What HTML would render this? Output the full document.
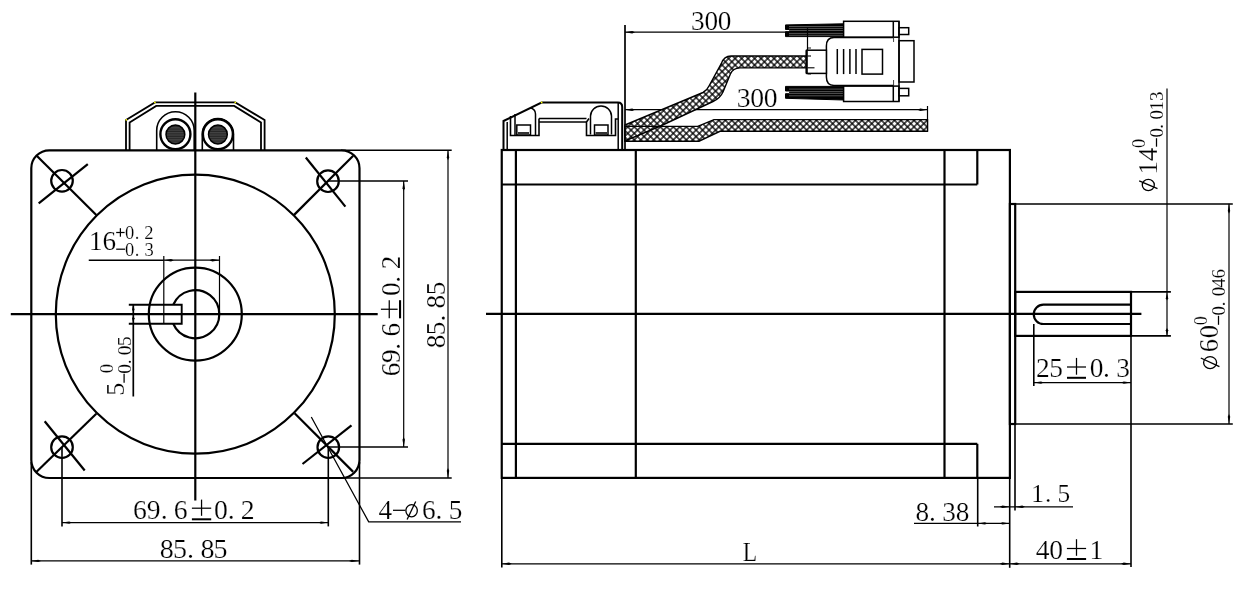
<!DOCTYPE html>
<html><head><meta charset="utf-8"><style>
html,body{margin:0;padding:0;background:#fff;width:1248px;height:601px;overflow:hidden}
svg{display:block;will-change:transform}
text{font-family:"Liberation Serif",serif;font-size:100px;fill:#000;stroke:#fff;stroke-width:0.8px}
</style></head><body>
<svg width="1248" height="601" viewBox="0 0 1248 601">
<defs>
<pattern id="hatch" patternUnits="userSpaceOnUse" width="4.6" height="4.6" patternTransform="rotate(45)">
<rect width="4.6" height="4.6" fill="#000"/>
<rect x="0.65" y="0.65" width="3.3" height="3.3" fill="#fff"/>
</pattern>
<pattern id="stripe" patternUnits="userSpaceOnUse" width="20" height="2.4">
<rect width="20" height="2.4" fill="#444"/>
<rect y="1.4" width="20" height="0.7" fill="#111"/>
</pattern>
</defs>
<g stroke="#000" fill="none" stroke-linecap="butt">
<rect x="31.3" y="150.3" width="328.2" height="327.7" rx="18" stroke-width="2.2" fill="none"/>
<polyline points="126,150 126,120 154.9,102.4 235.3,102.4 264.6,120 264.6,150" stroke-width="1.8" fill="none"/>
<polyline points="129.6,150 129.6,122.4 156.2,105.9 234.2,105.9 261,122.4 261,150" stroke-width="1.8" fill="none"/>
<path d="M156.7,150 V130.5 A18.75,18.75 0 0 1 194.2,130.5 V150" stroke-width="1.6" fill="none" />
<path d="M202.3,150 V134.2 A15.6,15.6 0 0 1 233.5,134.2 V150" stroke-width="1.6" fill="none" />
<circle cx="175.4" cy="134.2" r="15.0" stroke-width="2.4" fill="#fff"/>
<circle cx="217.9" cy="134.2" r="15.0" stroke-width="2.4" fill="#fff"/>
<circle cx="175.4" cy="134.5" r="9.4" stroke-width="1.5" fill="url(#stripe)"/>
<circle cx="217.9" cy="134.5" r="9.4" stroke-width="1.5" fill="url(#stripe)"/>
<circle cx="195.3" cy="314.2" r="139.5" stroke-width="2.2" fill="none"/>
<circle cx="195.3" cy="314.2" r="46.5" stroke-width="2.2" fill="none"/>
<path d="M173.26,304.7 A24,24 0 1 1 173.26,323.7" stroke-width="2.2" fill="none" />
<circle cx="62" cy="180.8" r="10.8" stroke-width="2.2" fill="none"/>
<circle cx="328" cy="181.2" r="10.8" stroke-width="2.2" fill="none"/>
<circle cx="62" cy="447.2" r="10.8" stroke-width="2.2" fill="none"/>
<circle cx="328.3" cy="447.2" r="10.8" stroke-width="2.2" fill="none"/>
<line x1="36.7" y1="155.8" x2="96.3" y2="215" stroke-width="2.2"/>
<line x1="353.2" y1="155.8" x2="294.1" y2="214.9" stroke-width="2.2"/>
<line x1="36.3" y1="472" x2="96.3" y2="413.7" stroke-width="2.2"/>
<line x1="294.6" y1="413.3" x2="353.2" y2="471.9" stroke-width="2.2"/>
<line x1="38.7" y1="203.3" x2="87.8" y2="164.2" stroke-width="2.2"/>
<line x1="305.8" y1="157.5" x2="345.4" y2="206.6" stroke-width="2.2"/>
<line x1="44.7" y1="421.3" x2="84.7" y2="470.5" stroke-width="2.2"/>
<line x1="302.5" y1="464" x2="351.5" y2="425.3" stroke-width="2.2"/>
<line x1="195.3" y1="92.5" x2="195.3" y2="500.6" stroke-width="2.2"/>
<line x1="10.8" y1="314.2" x2="377.7" y2="314.2" stroke-width="2.2"/>
<polyline points="128.8,304.7 181.7,304.7 181.7,323.7 128.8,323.7" stroke-width="1.9" fill="none"/>
<line x1="163.8" y1="256" x2="163.8" y2="323.3" stroke-width="1.2"/>
<line x1="219.5" y1="256" x2="219.5" y2="314" stroke-width="1.2"/>
<line x1="88.75" y1="260.2" x2="163.8" y2="260.2" stroke-width="1.6"/>
<line x1="163.8" y1="260.2" x2="219.5" y2="260.2" stroke-width="1.2"/>
<polygon points="163.80,260.20 171.00,259.00 173.80,260.20 171.00,261.40" stroke="none" fill="#000"/>
<polygon points="219.50,260.20 212.30,261.40 209.50,260.20 212.30,259.00" stroke="none" fill="#000"/>
<line x1="133.3" y1="304.7" x2="133.3" y2="396.5" stroke-width="1.7"/>
<polygon points="133.30,304.70 134.50,309.74 133.30,311.70 132.10,309.74" stroke="none" fill="#000"/>
<polygon points="133.30,323.30 132.10,318.26 133.30,316.30 134.50,318.26" stroke="none" fill="#000"/>
<line x1="62" y1="447" x2="62" y2="526.4" stroke-width="1.6"/>
<line x1="328.3" y1="447" x2="328.3" y2="526.4" stroke-width="1.6"/>
<line x1="31.3" y1="462" x2="31.3" y2="564.6" stroke-width="1.6"/>
<line x1="359.5" y1="462" x2="359.5" y2="564.6" stroke-width="1.6"/>
<line x1="328" y1="181" x2="408" y2="181" stroke-width="1.6"/>
<line x1="328" y1="447" x2="408" y2="447" stroke-width="1.6"/>
<line x1="341" y1="150.3" x2="451.7" y2="150.3" stroke-width="1.6"/>
<line x1="341" y1="478" x2="451.7" y2="478" stroke-width="1.6"/>
<line x1="62" y1="522.6" x2="328.3" y2="522.6" stroke-width="1.2"/>
<polygon points="62.00,522.60 69.20,521.40 72.00,522.60 69.20,523.80" stroke="none" fill="#000"/>
<polygon points="328.30,522.60 321.10,523.80 318.30,522.60 321.10,521.40" stroke="none" fill="#000"/>
<line x1="31" y1="560.9" x2="359" y2="560.9" stroke-width="1.2"/>
<polygon points="31.00,560.90 38.20,559.70 41.00,560.90 38.20,562.10" stroke="none" fill="#000"/>
<polygon points="359.00,560.90 351.80,562.10 349.00,560.90 351.80,559.70" stroke="none" fill="#000"/>
<line x1="403.7" y1="181" x2="403.7" y2="447" stroke-width="1.2"/>
<polygon points="403.70,181.00 404.90,188.20 403.70,191.00 402.50,188.20" stroke="none" fill="#000"/>
<polygon points="403.70,447.00 402.50,439.80 403.70,437.00 404.90,439.80" stroke="none" fill="#000"/>
<line x1="448" y1="150.3" x2="448" y2="478" stroke-width="1.2"/>
<polygon points="448.00,150.30 449.20,157.50 448.00,160.30 446.80,157.50" stroke="none" fill="#000"/>
<polygon points="448.00,478.00 446.80,470.80 448.00,468.00 449.20,470.80" stroke="none" fill="#000"/>
<polyline points="311.3,417 368.7,521.9 461,521.9" stroke-width="1.25" fill="none"/>
<rect x="501.75" y="150" width="508.15" height="327.9" rx="0" stroke-width="2.2" fill="none"/>
<line x1="515.9" y1="150" x2="515.9" y2="477.9" stroke-width="2.2"/>
<line x1="635.8" y1="150" x2="635.8" y2="477.9" stroke-width="2.2"/>
<line x1="944.5" y1="150" x2="944.5" y2="477.9" stroke-width="2.2"/>
<line x1="977.3" y1="150" x2="977.3" y2="184.5" stroke-width="2.2"/>
<line x1="977.3" y1="443.8" x2="977.3" y2="477.9" stroke-width="2.2"/>
<line x1="501.75" y1="184.5" x2="977.3" y2="184.5" stroke-width="2.2"/>
<line x1="501.75" y1="443.8" x2="977.3" y2="443.8" stroke-width="2.2"/>
<rect x="1009.9" y="204" width="5.300000000000068" height="220" rx="0" stroke-width="2.2" fill="none"/>
<rect x="1015.2" y="291.9" width="115.79999999999995" height="44.0" rx="0" stroke-width="2.2" fill="none"/>
<path d="M1131,304.7 H1043.4 A9.65,9.65 0 0 0 1043.4,324 H1131" stroke-width="2.2" fill="none" />
<line x1="486" y1="313.8" x2="1141.4" y2="313.8" stroke-width="2.2"/>
<line x1="1131" y1="291.9" x2="1170.9" y2="291.9" stroke-width="1.6"/>
<line x1="1131" y1="335.9" x2="1170.9" y2="335.9" stroke-width="1.6"/>
<line x1="1167" y1="88.6" x2="1167" y2="335.9" stroke-width="1.2"/>
<polygon points="1167.00,292.60 1168.20,298.36 1167.00,300.60 1165.80,298.36" stroke="none" fill="#000"/>
<polygon points="1167.00,335.90 1165.80,330.14 1167.00,327.90 1168.20,330.14" stroke="none" fill="#000"/>
<line x1="1015" y1="204" x2="1232.8" y2="204" stroke-width="1.6"/>
<line x1="1015" y1="424" x2="1232.8" y2="424" stroke-width="1.6"/>
<line x1="1229" y1="203.8" x2="1229" y2="424" stroke-width="1.2"/>
<polygon points="1229.00,203.80 1230.20,211.00 1229.00,213.80 1227.80,211.00" stroke="none" fill="#000"/>
<polygon points="1229.00,424.00 1227.80,416.80 1229.00,414.00 1230.20,416.80" stroke="none" fill="#000"/>
<line x1="1131" y1="335.9" x2="1131" y2="567" stroke-width="1.6"/>
<line x1="1033.8" y1="324" x2="1033.8" y2="386" stroke-width="1.6"/>
<line x1="1033.8" y1="382.6" x2="1131" y2="382.6" stroke-width="1.2"/>
<polygon points="1033.80,382.60 1041.00,381.40 1043.80,382.60 1041.00,383.80" stroke="none" fill="#000"/>
<polygon points="1131.00,382.60 1123.80,383.80 1121.00,382.60 1123.80,381.40" stroke="none" fill="#000"/>
<line x1="501.8" y1="477.8" x2="501.8" y2="567.4" stroke-width="1.6"/>
<line x1="1009.7" y1="477.8" x2="1009.7" y2="567.8" stroke-width="1.6"/>
<line x1="977.7" y1="477.8" x2="977.7" y2="526.5" stroke-width="1.6"/>
<line x1="1015" y1="424" x2="1015" y2="510.5" stroke-width="1.6"/>
<line x1="501.8" y1="563.8" x2="1131" y2="563.8" stroke-width="1.2"/>
<polygon points="501.80,563.80 509.00,562.60 511.80,563.80 509.00,565.00" stroke="none" fill="#000"/>
<polygon points="1009.70,563.80 1002.50,565.00 999.70,563.80 1002.50,562.60" stroke="none" fill="#000"/>
<polygon points="1009.70,563.80 1016.90,562.60 1019.70,563.80 1016.90,565.00" stroke="none" fill="#000"/>
<polygon points="1131.00,563.80 1123.80,565.00 1121.00,563.80 1123.80,562.60" stroke="none" fill="#000"/>
<line x1="914" y1="523.4" x2="1009.7" y2="523.4" stroke-width="1.2"/>
<polygon points="977.70,523.40 984.90,522.20 987.70,523.40 984.90,524.60" stroke="none" fill="#000"/>
<polygon points="1009.70,523.40 1002.50,524.60 999.70,523.40 1002.50,522.20" stroke="none" fill="#000"/>
<line x1="994" y1="506.8" x2="1073" y2="506.8" stroke-width="1.2"/>
<polygon points="1009.70,506.80 1002.50,508.00 999.70,506.80 1002.50,505.60" stroke="none" fill="#000"/>
<polygon points="1015.00,506.80 1022.20,505.60 1025.00,506.80 1022.20,508.00" stroke="none" fill="#000"/>
<polyline points="503.5,150 503.5,121 541.5,102.5 618,102.5" stroke-width="2.0" fill="none"/>
<path d="M618,102.5 Q622.2,102.5 622.2,107 V150" stroke-width="2.0" fill="none" />
<line x1="507.2" y1="122" x2="507.2" y2="150" stroke-width="1.5"/>
<line x1="618.2" y1="103" x2="618.2" y2="150" stroke-width="1.5"/>
<path d="M510.5,116 V135.5 H539 V118.5" stroke-width="1.6" fill="none" />
<path d="M515,114 V135 M535.5,135 V114 Q535.5,109 530,107.8" stroke-width="1.5" fill="none" />
<rect x="516.8" y="125" width="13.700000000000045" height="10" rx="0" stroke-width="1.5" fill="none"/>
<rect x="518" y="132" width="11" height="3" rx="0" stroke-width="0" fill="#333"/>
<line x1="539" y1="118.5" x2="586.5" y2="118.5" stroke-width="1.3"/>
<line x1="539" y1="122" x2="586.5" y2="122" stroke-width="1.3"/>
<path d="M589,118.5 L586.5,122 V135.5 H615.5 V119 H618" stroke-width="1.6" fill="none" />
<path d="M590.5,134.5 V116 A10.5,10 0 0 1 611.5,116 V134.5" stroke-width="1.5" fill="none" />
<rect x="594.5" y="125" width="13.5" height="10" rx="0" stroke-width="1.5" fill="none"/>
<rect x="595.5" y="132" width="11.5" height="3" rx="0" stroke-width="0" fill="#333"/>
<line x1="625" y1="25" x2="625" y2="150" stroke-width="1.7"/>
<line x1="625" y1="32.2" x2="807.5" y2="32.2" stroke-width="1.2"/>
<polygon points="625.00,32.20 632.20,31.00 635.00,32.20 632.20,33.40" stroke="none" fill="#000"/>
<line x1="625" y1="109.7" x2="927.5" y2="109.7" stroke-width="1.2"/>
<polygon points="625.00,109.70 632.20,108.50 635.00,109.70 632.20,110.90" stroke="none" fill="#000"/>
<polygon points="927.50,109.70 920.30,110.90 917.50,109.70 920.30,108.50" stroke="none" fill="#000"/>
<line x1="927.5" y1="106" x2="927.5" y2="131" stroke-width="1.2"/>
<path d="M625,126.4 H697.7 L714,119.6 H927.5 V131.3 H720 L699,141.2 H625 Z" stroke-width="0" fill="url(#hatch)" stroke="none"/>
<path d="M625,125 L703,92.5 Q707,90.5 709,86 L721.4,63.4 Q724,56 731,56 H806.8 V67.9 H740 Q733,68 730.4,74 L723,92 Q720,98.5 713,101.5 L661.6,125.5 L625,141 Z" stroke-width="0" fill="url(#hatch)" stroke="none"/>
<path d="M625,126.4 H697.7 L714,119.6 H927.5 V131.3 H720 L699,141.2 H625 Z" stroke-width="1.4" fill="none" />
<path d="M625,125 L703,92.5 Q707,90.5 709,86 L721.4,63.4 Q724,56 731,56 H806.8 V67.9 H740 Q733,68 730.4,74 L723,92 Q720,98.5 713,101.5 L661.6,125.5 L625,141 Z" stroke-width="1.4" fill="none" />
<path d="M785.5,24.9 L843.6,23.8 V36.6 H785.5 V31.7 H789.6 V29.5 H785.5 Z" stroke-width="1.0" fill="#000" />
<line x1="789" y1="26.5" x2="843" y2="26.5" stroke="#777" stroke-width="0.7"/>
<line x1="789" y1="28.4" x2="843" y2="28.4" stroke="#777" stroke-width="0.7"/>
<line x1="789" y1="30.5" x2="843" y2="30.5" stroke="#777" stroke-width="0.7"/>
<line x1="789" y1="33.4" x2="843" y2="33.4" stroke="#777" stroke-width="0.7"/>
<line x1="789" y1="35.3" x2="843" y2="35.3" stroke="#777" stroke-width="0.7"/>
<path d="M785.5,86.4 H843.6 V100 L785.5,98.3 V93.7 H789.6 V91 H785.5 Z" stroke-width="1.0" fill="#000" />
<line x1="789" y1="89.1" x2="843" y2="89.1" stroke="#777" stroke-width="0.7"/>
<line x1="789" y1="91.6" x2="843" y2="91.6" stroke="#777" stroke-width="0.7"/>
<line x1="789" y1="93.4" x2="843" y2="93.4" stroke="#777" stroke-width="0.7"/>
<line x1="789" y1="95.8" x2="843" y2="95.8" stroke="#777" stroke-width="0.7"/>
<rect x="843.6" y="21.3" width="55.39999999999998" height="15.900000000000002" rx="0" stroke-width="1.5" fill="#fff"/>
<rect x="843.6" y="86.1" width="55.39999999999998" height="15.400000000000006" rx="0" stroke-width="1.5" fill="#fff"/>
<line x1="893.3" y1="21.3" x2="893.3" y2="42" stroke-width="1.5"/>
<line x1="893.3" y1="80" x2="893.3" y2="101.5" stroke-width="1.5"/>
<rect x="899" y="27.7" width="9.700000000000045" height="6.800000000000001" rx="0" stroke-width="1.5" fill="#fff"/>
<rect x="899" y="88.4" width="9.700000000000045" height="7.3999999999999915" rx="0" stroke-width="1.5" fill="#fff"/>
<path d="M893.3,37.5 H834 Q826.4,37.5 826.4,46 V77 Q826.4,85.4 834,85.4 H893.3" stroke-width="1.5" fill="#fff" />
<rect x="899" y="40.7" width="15" height="41.3" rx="0" stroke-width="1.5" fill="#fff"/>
<line x1="899" y1="21.3" x2="899" y2="101.5" stroke-width="1.5"/>
<line x1="837.3" y1="49" x2="837.3" y2="74.1" stroke-width="1.5"/>
<line x1="843.6" y1="49" x2="843.6" y2="74.1" stroke-width="1.5"/>
<line x1="849.9" y1="49" x2="849.9" y2="74.1" stroke-width="1.5"/>
<line x1="856" y1="49" x2="856" y2="74.1" stroke-width="1.5"/>
<rect x="862" y="49.4" width="20.5" height="24.699999999999996" rx="0" stroke-width="1.5" fill="none"/>
<rect x="806.6" y="50.2" width="19.799999999999955" height="23.200000000000003" rx="0" stroke-width="1.5" fill="#fff"/>
<line x1="807.5" y1="28.2" x2="807.5" y2="50" stroke-width="1.2"/>
<line x1="807.5" y1="48" x2="811" y2="48" stroke-width="0.9"/>
<line x1="807.5" y1="56" x2="811" y2="56" stroke-width="1.1"/>
<line x1="807.5" y1="67.8" x2="814.5" y2="67.8" stroke-width="1.1"/>
<line x1="807.5" y1="74" x2="811" y2="74" stroke-width="0.9"/>
<line x1="806.6" y1="50.2" x2="806.6" y2="73.4" stroke-width="2.2"/>
<circle cx="126.3" cy="119.8" r="0.9" stroke="none" fill="#ff0"/>
<circle cx="154.9" cy="102.4" r="0.9" stroke="none" fill="#ff0"/>
<circle cx="235.3" cy="102.4" r="0.9" stroke="none" fill="#ff0"/>
<circle cx="541.6" cy="102.4" r="0.9" stroke="none" fill="#ff0"/>
<text transform="matrix(0.27111 0 0 0.27111 89.10 250.13)">1</text>
<text transform="matrix(0.27111 0 0 0.27111 102.45 250.13)">6</text>
<line x1="116.2" y1="232.5" x2="124.6" y2="232.5" stroke-width="1.25"/>
<line x1="120.4" y1="228.2" x2="120.4" y2="236.7" stroke-width="1.25"/>
<text transform="matrix(0.18519 0 0 0.18519 125.12 238.56)">0</text>
<text transform="matrix(0.18519 0 0 0.18519 134.74 238.56)">.</text>
<text transform="matrix(0.18519 0 0 0.18519 144.21 238.56)">2</text>
<line x1="116.2" y1="249.2" x2="125" y2="249.2" stroke-width="1.25"/>
<text transform="matrix(0.18519 0 0 0.18519 125.12 256.06)">0</text>
<text transform="matrix(0.18519 0 0 0.18519 134.74 256.06)">.</text>
<text transform="matrix(0.18519 0 0 0.18519 144.45 256.06)">3</text>
<text transform="matrix(0 -0.27259 0.27259 0 399.93 269.23)">2</text>
<text transform="matrix(0 -0.27259 0.27259 0 399.93 282.86)">.</text>
<text transform="matrix(0 -0.27259 0.27259 0 399.93 296.11)">0</text>
<text transform="matrix(0 -0.27259 0.27259 0 399.93 336.49)">6</text>
<text transform="matrix(0 -0.27259 0.27259 0 399.93 349.71)">.</text>
<text transform="matrix(0 -0.27259 0.27259 0 399.93 363.11)">9</text>
<text transform="matrix(0 -0.27259 0.27259 0 399.93 376.29)">6</text>
<line x1="389.25" y1="300.2" x2="389.25" y2="318.3" stroke-width="1.25"/>
<line x1="380.9" y1="309.25" x2="397.6" y2="309.25" stroke-width="1.25"/>
<rect x="399" y="300.2" width="2.1000000000000227" height="18.100000000000023" rx="0" stroke-width="0" fill="#000"/>
<text transform="matrix(0 -0.27111 0.27111 0 445.03 295.37)">5</text>
<text transform="matrix(0 -0.27111 0.27111 0 445.03 308.38)">8</text>
<text transform="matrix(0 -0.27111 0.27111 0 445.03 321.44)">.</text>
<text transform="matrix(0 -0.27111 0.27111 0 445.03 335.16)">5</text>
<text transform="matrix(0 -0.27111 0.27111 0 445.03 348.18)">8</text>
<text transform="matrix(0.27704 0 0 0.27704 133.10 519.02)">6</text>
<text transform="matrix(0.27704 0 0 0.27704 146.83 519.02)">9</text>
<text transform="matrix(0.27704 0 0 0.27704 160.69 519.02)">.</text>
<text transform="matrix(0.27704 0 0 0.27704 173.85 519.02)">6</text>
<text transform="matrix(0.27704 0 0 0.27704 213.92 519.02)">0</text>
<text transform="matrix(0.27704 0 0 0.27704 227.74 519.02)">.</text>
<text transform="matrix(0.27704 0 0 0.27704 240.71 519.02)">2</text>
<line x1="191.9" y1="508.2" x2="211.2" y2="508.2" stroke-width="1.25"/>
<line x1="201.55" y1="499.6" x2="201.55" y2="515.8" stroke-width="1.25"/>
<rect x="191.9" y="518.3" width="19.299999999999983" height="2.0" rx="0" stroke-width="0" fill="#000"/>
<text transform="matrix(0.28000 0 0 0.28000 159.70 558.42)">8</text>
<text transform="matrix(0.28000 0 0 0.28000 172.90 558.42)">5</text>
<text transform="matrix(0.28000 0 0 0.28000 186.95 558.42)">.</text>
<text transform="matrix(0.28000 0 0 0.28000 200.40 558.42)">8</text>
<text transform="matrix(0.28000 0 0 0.28000 213.50 558.42)">5</text>
<text transform="matrix(0.27259 0 0 0.27259 378.42 519.23)">4</text>
<text transform="matrix(0.27259 0 0 0.27259 422.06 519.23)">6</text>
<text transform="matrix(0.27259 0 0 0.27259 435.59 519.23)">.</text>
<text transform="matrix(0.27259 0 0 0.27259 448.70 519.23)">5</text>
<line x1="393" y1="510.3" x2="405.3" y2="510.3" stroke-width="1.25"/>
<ellipse cx="411.6" cy="510.7" rx="5.7" ry="6.1" stroke-width="1.3"/>
<line x1="407.1" y1="519.5" x2="415.7" y2="501.5" stroke-width="1.3"/>
<text transform="matrix(0 -0.26074 0.26074 0 124.14 395.85)">5</text>
<text transform="matrix(0 -0.18815 0.18815 0 113.21 373.25)">0</text>
<line x1="124.1" y1="373.8" x2="124.1" y2="382.8" stroke-width="1.25"/>
<text transform="matrix(0 -0.19407 0.19407 0 130.71 373.65)">0</text>
<text transform="matrix(0 -0.19407 0.19407 0 130.71 364.33)">.</text>
<text transform="matrix(0 -0.19407 0.19407 0 130.71 355.25)">0</text>
<text transform="matrix(0 -0.19407 0.19407 0 130.71 346.02)">5</text>
<text transform="matrix(0.27259 0 0 0.27259 690.88 29.73)">3</text>
<text transform="matrix(0.27259 0 0 0.27259 704.59 29.73)">0</text>
<text transform="matrix(0.27259 0 0 0.27259 717.84 29.73)">0</text>
<text transform="matrix(0.27704 0 0 0.27704 736.77 107.42)">3</text>
<text transform="matrix(0.27704 0 0 0.27704 750.32 107.42)">0</text>
<text transform="matrix(0.27704 0 0 0.27704 763.87 107.42)">0</text>
<text transform="matrix(0 -0.26667 0.26667 0 1156.73 174.53)">1</text>
<text transform="matrix(0 -0.26667 0.26667 0 1156.73 160.88)">4</text>
<ellipse cx="1148.3" cy="185" rx="6.0" ry="5.6" stroke-width="1.3"/>
<line x1="1139.2" y1="180.8" x2="1157.5" y2="188.7" stroke-width="1.3"/>
<text transform="matrix(0 -0.18370 0.18370 0 1145.22 147.89)">0</text>
<line x1="1156.5" y1="138.2" x2="1156.5" y2="146.7" stroke-width="1.25"/>
<text transform="matrix(0 -0.18963 0.18963 0 1162.71 137.59)">0</text>
<text transform="matrix(0 -0.18963 0.18963 0 1162.71 128.82)">.</text>
<text transform="matrix(0 -0.18963 0.18963 0 1162.71 119.49)">0</text>
<text transform="matrix(0 -0.18963 0.18963 0 1162.71 110.45)">1</text>
<text transform="matrix(0 -0.18963 0.18963 0 1162.71 100.91)">3</text>
<text transform="matrix(0.27407 0 0 0.27407 1035.94 377.43)">2</text>
<text transform="matrix(0.27407 0 0 0.27407 1049.16 377.43)">5</text>
<text transform="matrix(0.27407 0 0 0.27407 1089.85 377.43)">0</text>
<text transform="matrix(0.27407 0 0 0.27407 1103.12 377.43)">.</text>
<text transform="matrix(0.27407 0 0 0.27407 1116.20 377.43)">3</text>
<line x1="1067" y1="367" x2="1086" y2="367" stroke-width="1.25"/>
<line x1="1076.5" y1="357.9" x2="1076.5" y2="374.7" stroke-width="1.25"/>
<rect x="1067" y="376.8" width="19" height="2.0" rx="0" stroke-width="0" fill="#000"/>
<text transform="matrix(0 -0.26519 0.26519 0 1218.43 352.15)">6</text>
<text transform="matrix(0 -0.26519 0.26519 0 1218.43 338.28)">0</text>
<ellipse cx="1210.1" cy="362.6" rx="6.5" ry="6.0" stroke-width="1.3"/>
<line x1="1200.8" y1="358" x2="1219.4" y2="366.6" stroke-width="1.3"/>
<text transform="matrix(0 -0.18222 0.18222 0 1207.32 325.36)">0</text>
<line x1="1218.5" y1="315.8" x2="1218.5" y2="324.8" stroke-width="1.25"/>
<text transform="matrix(0 -0.18963 0.18963 0 1224.81 315.44)">0</text>
<text transform="matrix(0 -0.18963 0.18963 0 1224.81 306.17)">.</text>
<text transform="matrix(0 -0.18963 0.18963 0 1224.81 296.24)">0</text>
<text transform="matrix(0 -0.18963 0.18963 0 1224.81 287.79)">4</text>
<text transform="matrix(0 -0.18963 0.18963 0 1224.81 278.61)">6</text>
<text transform="matrix(0.27259 0 0 0.27259 915.44 520.63)">8</text>
<text transform="matrix(0.27259 0 0 0.27259 928.94 520.63)">.</text>
<text transform="matrix(0.27259 0 0 0.27259 942.28 520.63)">3</text>
<text transform="matrix(0.27259 0 0 0.27259 955.64 520.63)">8</text>
<text transform="matrix(0.25333 0 0 0.25333 1031.37 502.25)">1</text>
<text transform="matrix(0.25333 0 0 0.25333 1045.08 502.25)">.</text>
<text transform="matrix(0.25333 0 0 0.25333 1057.39 502.25)">5</text>
<text transform="matrix(0.27556 0 0 0.27556 1035.84 558.72)">4</text>
<text transform="matrix(0.27556 0 0 0.27556 1049.36 558.72)">0</text>
<text transform="matrix(0.27556 0 0 0.27556 1089.38 558.72)">1</text>
<line x1="1066.9" y1="548.5" x2="1086.1" y2="548.5" stroke-width="1.25"/>
<line x1="1076.5" y1="539.2" x2="1076.5" y2="555.8" stroke-width="1.25"/>
<rect x="1066.9" y="558" width="19.199999999999818" height="2" rx="0" stroke-width="0" fill="#000"/>
<text transform="matrix(0.23558 0 0 0.27037 742.79 561.48)">L</text>
</g>
</svg>
</body></html>
